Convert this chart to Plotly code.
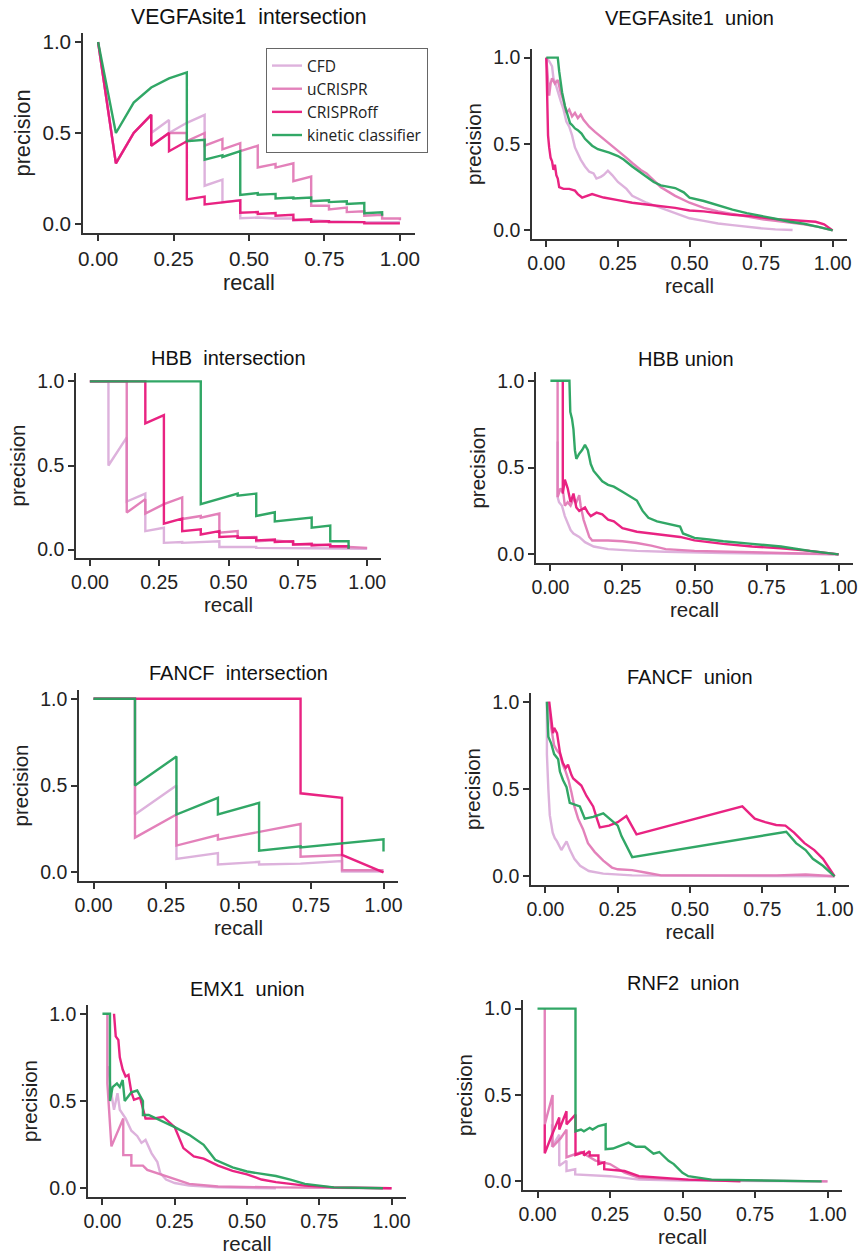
import plotly.graph_objects as go

# ---------------- data: (recall, precision) vertices ----------------
vegfa_int_cfd = [(0,1),(0.059,0.333),(0.118,0.5),(0.176,0.6),(0.176,0.5),(0.235,0.571),(0.235,0.5),(0.294,0.556),(0.353,0.6),(0.353,0.21),(0.412,0.243),(0.412,0.12),(0.471,0.13),(0.471,0.031),(0.529,0.035),(0.588,0.03),(0.647,0.03),(0.647,0.02),(0.706,0.02),(0.765,0.015),(0.882,0.01),(1.0,0.01)]
vegfa_int_ucrispr = [(0,1),(0.059,0.333),(0.118,0.5),(0.176,0.6),(0.176,0.43),(0.235,0.5),(0.294,0.5),(0.294,0.455),(0.353,0.5),(0.353,0.43),(0.412,0.467),(0.412,0.41),(0.471,0.444),(0.471,0.4),(0.529,0.43),(0.529,0.31),(0.588,0.33),(0.588,0.31),(0.647,0.333),(0.647,0.235),(0.706,0.26),(0.706,0.1),(0.765,0.1),(0.765,0.08),(0.824,0.09),(0.824,0.065),(0.882,0.07),(0.882,0.045),(0.941,0.05),(0.941,0.03),(1.0,0.03),(1.0,0.02)]
vegfa_int_crisproff = [(0,1),(0.059,0.333),(0.118,0.5),(0.176,0.6),(0.176,0.43),(0.235,0.5),(0.235,0.4),(0.294,0.455),(0.294,0.135),(0.353,0.15),(0.353,0.107),(0.412,0.12),(0.471,0.13),(0.471,0.062),(0.529,0.065),(0.529,0.055),(0.588,0.06),(0.588,0.045),(0.647,0.05),(0.647,0.022),(0.706,0.025),(0.706,0.012),(0.765,0.015),(0.765,0.01),(0.882,0.01),(0.882,0.003),(1.0,0.003)]
vegfa_int_kinetic = [(0,1),(0.059,0.5),(0.118,0.667),(0.176,0.75),(0.235,0.8),(0.294,0.833),(0.294,0.455),(0.353,0.462),(0.353,0.353),(0.412,0.378),(0.412,0.368),(0.471,0.4),(0.471,0.16),(0.529,0.17),(0.529,0.16),(0.588,0.165),(0.588,0.14),(0.647,0.145),(0.647,0.14),(0.706,0.145),(0.706,0.125),(0.765,0.13),(0.765,0.12),(0.824,0.125),(0.824,0.11),(0.882,0.115),(0.882,0.059),(0.941,0.064),(0.941,0.045)]

vegfa_uni_cfd = [(0,1),(0.01,0.98),(0.02,0.95),(0.025,0.88),(0.03,0.86),(0.04,0.8),(0.05,0.75),(0.06,0.7),(0.07,0.63),(0.08,0.6),(0.09,0.55),(0.1,0.48),(0.11,0.44),(0.12,0.41),(0.135,0.37),(0.15,0.34),(0.165,0.33),(0.175,0.3),(0.19,0.31),(0.2,0.32),(0.215,0.345),(0.23,0.32),(0.25,0.28),(0.28,0.24),(0.3,0.2),(0.35,0.16),(0.4,0.13),(0.45,0.1),(0.5,0.07),(0.55,0.055),(0.6,0.04),(0.65,0.03),(0.7,0.02),(0.75,0.012),(0.8,0.006),(0.86,0.002)]
vegfa_uni_ucrispr = [(0,1),(0.005,0.9),(0.01,0.78),(0.015,0.85),(0.02,0.88),(0.03,0.85),(0.04,0.87),(0.05,0.8),(0.06,0.75),(0.07,0.68),(0.08,0.7),(0.09,0.66),(0.1,0.68),(0.11,0.65),(0.12,0.67),(0.13,0.64),(0.15,0.6),(0.17,0.57),(0.2,0.53),(0.22,0.5),(0.25,0.46),(0.28,0.42),(0.3,0.39),(0.33,0.35),(0.35,0.33),(0.38,0.28),(0.4,0.25),(0.43,0.22),(0.45,0.2),(0.5,0.16),(0.55,0.13),(0.6,0.11),(0.65,0.095),(0.7,0.08),(0.75,0.065),(0.8,0.055),(0.85,0.045),(0.9,0.035),(0.95,0.02),(1.0,0.0)]
vegfa_uni_crisproff = [(0,1),(0.003,0.7),(0.006,0.55),(0.01,0.48),(0.015,0.42),(0.02,0.4),(0.025,0.35),(0.03,0.38),(0.035,0.32),(0.04,0.3),(0.045,0.25),(0.06,0.24),(0.08,0.24),(0.1,0.23),(0.11,0.21),(0.125,0.19),(0.14,0.2),(0.16,0.21),(0.18,0.2),(0.2,0.19),(0.25,0.175),(0.3,0.16),(0.35,0.15),(0.4,0.14),(0.45,0.13),(0.5,0.115),(0.55,0.11),(0.6,0.1),(0.65,0.09),(0.7,0.085),(0.75,0.075),(0.8,0.065),(0.85,0.06),(0.9,0.055),(0.94,0.05),(0.97,0.035),(1.0,0.0)]
vegfa_uni_kinetic = [(0,1),(0.04,1.0),(0.045,0.92),(0.05,0.85),(0.055,0.8),(0.065,0.72),(0.075,0.66),(0.083,0.62),(0.09,0.61),(0.1,0.59),(0.11,0.58),(0.123,0.56),(0.135,0.53),(0.146,0.51),(0.16,0.49),(0.18,0.47),(0.2,0.46),(0.22,0.45),(0.25,0.43),(0.27,0.41),(0.3,0.37),(0.325,0.34),(0.35,0.31),(0.375,0.28),(0.4,0.26),(0.42,0.255),(0.45,0.245),(0.48,0.22),(0.5,0.19),(0.55,0.17),(0.6,0.145),(0.65,0.12),(0.7,0.1),(0.75,0.085),(0.8,0.067),(0.85,0.05),(0.9,0.038),(0.95,0.02),(1.0,0.0)]

hbb_int_cfd = [(0,1),(0.067,1),(0.067,0.5),(0.133,0.667),(0.133,0.286),(0.2,0.333),(0.2,0.11),(0.267,0.13),(0.267,0.04),(0.333,0.045),(0.333,0.04),(0.4,0.045),(0.467,0.05),(0.467,0.015),(0.533,0.017),(0.6,0.015),(0.6,0.01),(0.733,0.01),(0.8,0.008),(1.0,0.005)]
hbb_int_ucrispr = [(0,1),(0.133,1),(0.133,0.22),(0.2,0.3),(0.2,0.214),(0.267,0.27),(0.333,0.31),(0.333,0.182),(0.4,0.2),(0.4,0.19),(0.467,0.214),(0.467,0.1),(0.533,0.11),(0.533,0.07),(0.6,0.075),(0.6,0.05),(0.667,0.055),(0.733,0.045),(0.733,0.03),(0.8,0.03),(0.867,0.025),(0.867,0.015),(0.933,0.015),(1.0,0.01)]
hbb_int_crisproff = [(0,1),(0.2,1),(0.2,0.75),(0.267,0.8),(0.267,0.154),(0.333,0.184),(0.333,0.11),(0.4,0.12),(0.4,0.09),(0.467,0.11),(0.467,0.075),(0.533,0.08),(0.533,0.07),(0.6,0.07),(0.6,0.055),(0.667,0.06),(0.667,0.045),(0.733,0.05),(0.733,0.03),(0.8,0.035),(0.8,0.025),(0.867,0.03),(0.867,0.02),(0.933,0.02),(0.933,0.005)]
hbb_int_kinetic = [(0,1),(0.4,1),(0.4,0.27),(0.467,0.3),(0.533,0.333),(0.533,0.32),(0.6,0.333),(0.6,0.2),(0.667,0.222),(0.667,0.167),(0.733,0.18),(0.8,0.19),(0.8,0.13),(0.867,0.143),(0.867,0.05),(0.933,0.05),(0.933,0.005)]

hbb_uni_cfd = [(0.025,0.65),(0.025,0.33),(0.03,0.3),(0.04,0.28),(0.05,0.22),(0.06,0.18),(0.07,0.14),(0.08,0.12),(0.1,0.1),(0.12,0.07),(0.15,0.045),(0.2,0.03),(0.25,0.025),(0.3,0.02),(0.4,0.015),(0.5,0.01),(0.6,0.007),(0.8,0.004),(1.0,0.0)]
hbb_uni_ucrispr = [(0.025,1.0),(0.025,0.33),(0.035,0.38),(0.045,0.35),(0.05,0.28),(0.06,0.3),(0.07,0.28),(0.08,0.32),(0.09,0.3),(0.1,0.34),(0.105,0.28),(0.115,0.2),(0.125,0.15),(0.135,0.1),(0.145,0.08),(0.2,0.08),(0.25,0.075),(0.3,0.065),(0.35,0.05),(0.4,0.03),(0.5,0.02),(0.6,0.015),(0.8,0.008),(1.0,0.0)]
hbb_uni_crisproff = [(0.043,1.0),(0.043,0.35),(0.05,0.43),(0.055,0.4),(0.06,0.38),(0.07,0.3),(0.08,0.35),(0.09,0.27),(0.1,0.25),(0.11,0.26),(0.12,0.27),(0.13,0.24),(0.14,0.22),(0.16,0.24),(0.18,0.23),(0.2,0.2),(0.22,0.19),(0.25,0.15),(0.3,0.13),(0.35,0.12),(0.4,0.11),(0.45,0.1),(0.5,0.08),(0.55,0.07),(0.6,0.06),(0.7,0.045),(0.8,0.035),(0.9,0.02),(1.0,0.0)]
hbb_uni_kinetic = [(0,1),(0.066,1.0),(0.069,0.82),(0.075,0.78),(0.08,0.72),(0.085,0.6),(0.09,0.55),(0.1,0.58),(0.11,0.6),(0.12,0.63),(0.13,0.6),(0.14,0.52),(0.15,0.48),(0.16,0.46),(0.18,0.42),(0.2,0.4),(0.22,0.39),(0.25,0.36),(0.28,0.33),(0.3,0.31),(0.32,0.25),(0.34,0.21),(0.37,0.19),(0.4,0.18),(0.43,0.17),(0.45,0.16),(0.46,0.12),(0.5,0.095),(0.55,0.085),(0.6,0.075),(0.7,0.06),(0.8,0.045),(0.9,0.02),(1.0,0.0)]

fancf_int_cfd = [(0,1),(0.143,1),(0.143,0.333),(0.286,0.5),(0.286,0.077),(0.429,0.111),(0.429,0.045),(0.571,0.06),(0.571,0.045),(0.714,0.05),(0.857,0.065),(0.857,0.005),(1.0,0.005)]
fancf_int_ucrispr = [(0,1),(0.143,1),(0.143,0.2),(0.286,0.333),(0.286,0.154),(0.429,0.214),(0.429,0.188),(0.571,0.235),(0.714,0.278),(0.714,0.09),(0.857,0.1),(0.857,0.012),(1.0,0.012)]
fancf_int_crisproff = [(0,1),(0.714,1),(0.714,0.455),(0.857,0.429),(0.857,0.1),(1.0,0.0)]
fancf_int_kinetic = [(0,1),(0.143,1),(0.143,0.5),(0.286,0.667),(0.286,0.333),(0.429,0.429),(0.429,0.333),(0.571,0.4),(0.571,0.125),(0.714,0.15),(0.714,0.143),(0.857,0.167),(1.0,0.19),(1.0,0.12)]

fancf_uni_cfd = [(0.005,1.0),(0.005,0.7),(0.01,0.5),(0.015,0.35),(0.02,0.3),(0.025,0.25),(0.032,0.22),(0.04,0.2),(0.055,0.15),(0.065,0.18),(0.073,0.2),(0.085,0.15),(0.1,0.1),(0.12,0.06),(0.15,0.03),(0.2,0.015),(0.3,0.005),(0.6,0.002),(1.0,0.0)]
fancf_uni_ucrispr = [(0.01,1.0),(0.015,0.9),(0.02,0.85),(0.03,0.75),(0.04,0.72),(0.05,0.7),(0.06,0.64),(0.07,0.6),(0.08,0.55),(0.09,0.48),(0.1,0.4),(0.113,0.33),(0.13,0.27),(0.147,0.19),(0.17,0.14),(0.2,0.09),(0.23,0.05),(0.25,0.04),(0.3,0.035),(0.35,0.02),(0.4,0.005),(0.6,0.005),(0.8,0.005),(0.9,0.01),(0.95,0.005),(1.0,0.0)]
fancf_uni_crisproff = [(0.013,1.0),(0.02,0.9),(0.026,0.82),(0.03,0.85),(0.04,0.82),(0.05,0.71),(0.06,0.65),(0.07,0.62),(0.078,0.64),(0.09,0.58),(0.096,0.56),(0.11,0.54),(0.124,0.52),(0.142,0.46),(0.155,0.43),(0.165,0.4),(0.178,0.33),(0.188,0.28),(0.22,0.29),(0.25,0.31),(0.28,0.345),(0.3,0.28),(0.315,0.24),(0.681,0.4),(0.7,0.37),(0.724,0.33),(0.76,0.31),(0.798,0.294),(0.83,0.29),(0.86,0.25),(0.896,0.19),(0.93,0.15),(0.96,0.1),(1.0,0.0)]
fancf_uni_kinetic = [(0.005,1.0),(0.01,0.8),(0.02,0.76),(0.03,0.7),(0.044,0.67),(0.05,0.6),(0.061,0.55),(0.073,0.51),(0.084,0.42),(0.1,0.41),(0.119,0.4),(0.136,0.33),(0.165,0.34),(0.2,0.36),(0.23,0.32),(0.25,0.29),(0.263,0.23),(0.3,0.11),(0.833,0.255),(0.85,0.22),(0.867,0.19),(0.9,0.15),(0.925,0.1),(0.96,0.06),(1.0,0.0)]

emx1_uni_cfd = [(0.02,0.7),(0.03,0.55),(0.04,0.45),(0.052,0.545),(0.06,0.45),(0.08,0.4),(0.1,0.33),(0.12,0.3),(0.135,0.26),(0.149,0.277),(0.17,0.2),(0.19,0.15),(0.2,0.086),(0.22,0.05),(0.25,0.03),(0.3,0.015),(0.4,0.005),(0.6,0.0)]
emx1_uni_ucrispr = [(0.017,1.0),(0.017,0.6),(0.031,0.24),(0.072,0.4),(0.072,0.19),(0.1,0.19),(0.1,0.13),(0.14,0.13),(0.155,0.105),(0.2,0.08),(0.25,0.05),(0.3,0.025),(0.4,0.01),(0.6,0.005),(1.0,0.0)]
emx1_uni_crisproff = [(0.04,1.0),(0.046,0.87),(0.055,0.85),(0.06,0.75),(0.07,0.68),(0.08,0.64),(0.09,0.65),(0.1,0.55),(0.109,0.507),(0.13,0.52),(0.149,0.4),(0.18,0.4),(0.21,0.41),(0.25,0.35),(0.28,0.23),(0.316,0.182),(0.35,0.17),(0.4,0.13),(0.45,0.1),(0.5,0.08),(0.55,0.05),(0.6,0.035),(0.7,0.015),(0.8,0.005),(1.0,0.0)]
emx1_uni_kinetic = [(0.0,1.0),(0.026,1.0),(0.026,0.5),(0.035,0.58),(0.05,0.6),(0.06,0.58),(0.07,0.62),(0.077,0.5),(0.1,0.55),(0.12,0.56),(0.14,0.5),(0.14,0.42),(0.16,0.42),(0.2,0.39),(0.25,0.35),(0.3,0.306),(0.35,0.249),(0.39,0.163),(0.45,0.12),(0.5,0.096),(0.55,0.085),(0.6,0.07),(0.65,0.05),(0.7,0.025),(0.8,0.005),(0.97,0.0)]

rnf2_uni_cfd = [(0.05,0.33),(0.05,0.2),(0.075,0.27),(0.075,0.09),(0.1,0.12),(0.1,0.06),(0.13,0.07),(0.13,0.04),(0.25,0.03),(0.35,0.01),(0.5,0.005),(1.0,0.0)]
rnf2_uni_ucrispr = [(0.025,1.0),(0.025,0.33),(0.052,0.5),(0.052,0.2),(0.08,0.25),(0.1,0.3),(0.1,0.14),(0.15,0.17),(0.2,0.12),(0.25,0.1),(0.3,0.05),(0.35,0.02),(0.5,0.01),(1.0,0.0)]
rnf2_uni_crisproff = [(0.025,0.33),(0.025,0.163),(0.05,0.27),(0.075,0.37),(0.075,0.3),(0.1,0.406),(0.1,0.33),(0.131,0.387),(0.131,0.153),(0.16,0.17),(0.16,0.15),(0.18,0.175),(0.18,0.15),(0.21,0.15),(0.21,0.1),(0.23,0.11),(0.23,0.07),(0.3,0.06),(0.35,0.03),(0.45,0.02),(0.52,0.01),(0.7,0.0)]
rnf2_uni_kinetic = [(0,1),(0.131,1.0),(0.131,0.29),(0.15,0.3),(0.16,0.29),(0.18,0.31),(0.19,0.3),(0.21,0.32),(0.235,0.33),(0.235,0.186),(0.26,0.19),(0.314,0.224),(0.34,0.2),(0.37,0.2),(0.4,0.16),(0.42,0.17),(0.452,0.119),(0.47,0.1),(0.5,0.05),(0.52,0.03),(0.6,0.01),(0.98,0.0)]

panel_titles = ["VEGFAsite1  intersection", "VEGFAsite1  union", "HBB  intersection", "HBB union",
                "FANCF  intersection", "FANCF  union", "EMX1  union", "RNF2  union"]
series_names = ["CFD", "uCRISPR", "CRISPRoff", "kinetic classifier"]
series_colors = ["#dcaedb", "#e27bb7", "#e8187c", "#27a35e"]
x_tick_vals = [0, 0.25, 0.5, 0.75, 1.0]
x_tick_text = ["0.00", "0.25", "0.50", "0.75", "1.00"]
y_tick_vals = [0, 0.5, 1.0]
y_tick_text = ["0.0", "0.5", "1.0"]

panels = [
    [vegfa_int_cfd, vegfa_int_ucrispr, vegfa_int_crisproff, vegfa_int_kinetic],
    [vegfa_uni_cfd, vegfa_uni_ucrispr, vegfa_uni_crisproff, vegfa_uni_kinetic],
    [hbb_int_cfd, hbb_int_ucrispr, hbb_int_crisproff, hbb_int_kinetic],
    [hbb_uni_cfd, hbb_uni_ucrispr, hbb_uni_crisproff, hbb_uni_kinetic],
    [fancf_int_cfd, fancf_int_ucrispr, fancf_int_crisproff, fancf_int_kinetic],
    [fancf_uni_cfd, fancf_uni_ucrispr, fancf_uni_crisproff, fancf_uni_kinetic],
    [emx1_uni_cfd, emx1_uni_ucrispr, emx1_uni_crisproff, emx1_uni_kinetic],
    [rnf2_uni_cfd, rnf2_uni_ucrispr, rnf2_uni_crisproff, rnf2_uni_kinetic],
]

# ---------------- layout geometry (pixels: left, right, top, bottom of axes) ----------------
W, H = 862, 1255
boxes = [(83, 415, 33, 233), (532, 847, 49, 239),
         (76, 381, 373, 558), (536, 853, 372, 563),
         (79, 398, 690, 881), (531, 849, 693, 885),
         (88, 406, 1005, 1197), (523, 842, 1000, 1190)]
title_y = [16, 18, 358, 359, 673, 677, 989, 983]
title_dx = [0, 0, 0, -9, 0, 0, 0, 0]
scale = [1.06, 1, 1, 1, 1, 1, 1, 1]

FONT = "Liberation Sans, Arial, sans-serif"
fig = go.Figure()
layout = dict(
    width=W, height=H, margin=dict(l=0, r=0, t=0, b=0, autoexpand=False),
    paper_bgcolor="white", plot_bgcolor="white",
    font=dict(family=FONT, color="#222", size=19),
    showlegend=True,
    legend=dict(x=266 / W, y=1 - 48 / H, xanchor="left", yanchor="top",
                bgcolor="white", bordercolor="#666", borderwidth=1,
                font=dict(family="Open Sans, sans-serif", size=15.5, color="#222"),
                tracegroupgap=0, itemwidth=30),
)
annotations = []
for i, (curves, box) in enumerate(zip(panels, boxes)):
    n = i + 1
    sfx = "" if n == 1 else str(n)
    L, R, T, B = box
    s = scale[i]
    for k, (pts, name, col) in enumerate(zip(curves, series_names, series_colors)):
        fig.add_trace(go.Scatter(
            x=[p[0] for p in pts], y=[p[1] for p in pts], mode="lines", name=name,
            line=dict(color=col, width=2.4), opacity=0.95,
            showlegend=(n == 1), legendgroup=name,
            xaxis="x" + sfx, yaxis="y" + sfx, hoverinfo="skip"))
    axis_common = dict(showline=True, linecolor="#333", linewidth=1.5, ticks="outside",
                       ticklen=6, tickwidth=1.5, tickcolor="#333", showgrid=False,
                       zeroline=False, range=[-0.05, 1.05], automargin=False,
                       tickfont=dict(size=19.5 * s, family=FONT, color="#222"))
    layout["xaxis" + sfx] = dict(axis_common, domain=[L / W, R / W], anchor="y" + sfx,
                                 tickvals=x_tick_vals, ticktext=x_tick_text,
                                 title=dict(text="recall", font=dict(size=20.5 * s, family=FONT),
                                            standoff=2))
    layout["yaxis" + sfx] = dict(axis_common, domain=[1 - B / H, 1 - T / H], anchor="x" + sfx,
                                 tickvals=y_tick_vals, ticktext=y_tick_text,
                                 title=dict(text="precision", font=dict(size=20.5 * s, family=FONT),
                                            standoff=6))
    annotations.append(dict(text=panel_titles[i], xref="paper", yref="paper",
                            x=((L + R) / 2 + title_dx[i]) / W, y=1 - title_y[i] / H,
                            xanchor="center", yanchor="middle", showarrow=False,
                            font=dict(size=20 * s, family=FONT, color="#111")))
layout["annotations"] = annotations
fig.update_layout(**layout)
fig.write_html("out.html", config={"displayModeBar": False},
               post_script="document.body.style.margin='0';document.body.style.overflow='hidden';")
